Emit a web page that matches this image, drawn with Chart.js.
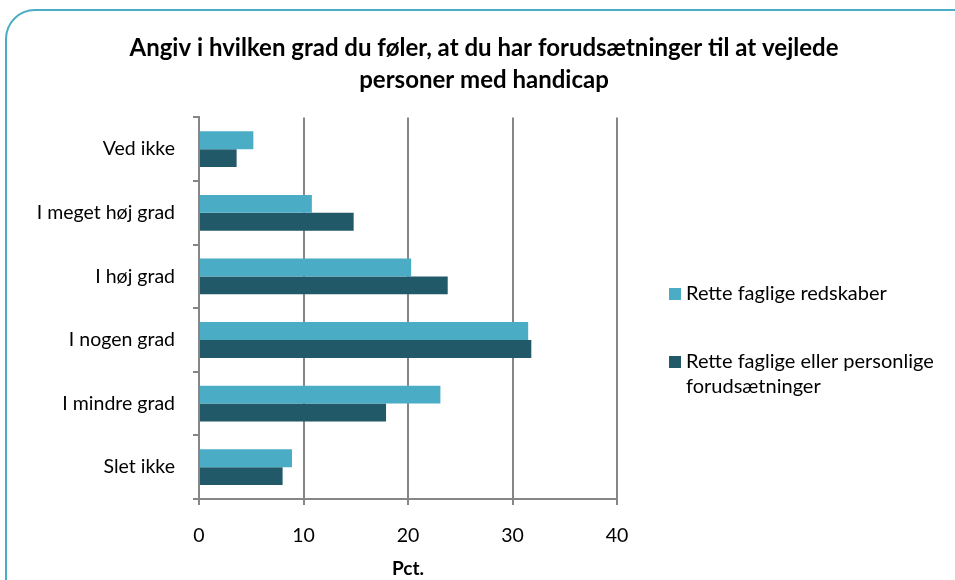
<!DOCTYPE html>
<html lang="da">
<head>
<meta charset="utf-8">
<title>Forudsætninger til at vejlede personer med handicap</title>
<script src="https://cdn.jsdelivr.net/npm/chart.js@4/dist/chart.umd.min.js"></script>
<style>
    html, body { margin: 0; padding: 0; background: #fff; overflow: hidden; }
    #wrap { position: relative; width: 955px; height: 580px; }
    #frame {
        position: absolute; left: 5px; top: 9px; width: 980px; height: 600px;
        border: 2px solid #4bacc6; border-radius: 30px; box-sizing: border-box;
    }
    canvas { position: absolute; left: 0; top: 0; }
</style>
</head>
<body>
<div id="wrap">
    <div id="frame"></div>
    <canvas id="chart" width="955" height="580"></canvas>
</div>
<script>
// data
const categories = ['Ved ikke', 'I meget høj grad', 'I høj grad', 'I nogen grad', 'I mindre grad', 'Slet ikke'];
const redskaber = [5.2, 10.8, 20.3, 31.5, 23.1, 8.9];
const forudsaetninger = [3.6, 14.8, 23.8, 31.8, 17.9, 8.0];
const seriesLabels = [
    ['Rette faglige redskaber'],
    ['Rette faglige eller personlige', 'forudsætninger']
];
const xTicks = [0, 10, 20, 30, 40];

const FONT = 'Lato, "Open Sans", sans-serif';
const GRID = '#868686';

// legend drawn to the right of the plot, lines kept as in the original
const sideLegend = {
    id: 'sideLegend',
    afterDraw(chart) {
        const ctx = chart.ctx;
        const rows = [294, 362];
        ctx.save();
        ctx.font = '20px ' + FONT;
        ctx.textBaseline = 'middle';
        chart.data.datasets.forEach((ds, i) => {
            ctx.fillStyle = ds.backgroundColor;
            ctx.fillRect(669, rows[i] - 6, 12, 12);
            ctx.fillStyle = '#000';
            seriesLabels[i].forEach((line, j) => {
                ctx.fillText(line, 686, rows[i] + j * 25);
            });
        });
        ctx.restore();
    }
};

const ctx = document.getElementById('chart').getContext('2d');
new Chart(ctx, {
    type: 'bar',
    data: {
        labels: categories,
        datasets: [
            {
                label: seriesLabels[0].join(' '),
                data: redskaber,
                backgroundColor: '#4bacc6'
            },
            {
                label: seriesLabels[1].join(' '),
                data: forudsaetninger,
                backgroundColor: '#215968'
            }
        ]
    },
    options: {
        indexAxis: 'y',
        responsive: false,
        animation: false,
        events: [],
        categoryPercentage: 0.5625,
        barPercentage: 1,
        layout: { padding: { left: 13, right: 0, top: 0, bottom: 0 } },
        plugins: {
            legend: { display: false },
            tooltip: { enabled: false },
            title: {
                display: true,
                text: ['Angiv i hvilken grad du føler, at du har forudsætninger til at vejlede',
                       'personer med handicap'],
                color: '#000',
                font: { family: FONT, size: 24, weight: 'bold', lineHeight: 1.3 },
                padding: { top: 33, bottom: 22 }
            }
        },
        scales: {
            x: {
                min: 0,
                max: 40,
                afterBuildTicks(scale) {
                    scale.ticks = xTicks.map(v => ({ value: v }));
                },
                afterFit(scale) { scale.height = 81; },
                grid: { color: GRID, lineWidth: 2, tickLength: 6 },
                border: { color: GRID, width: 2 },
                ticks: { color: '#000', font: { family: FONT, size: 19.5 }, padding: 19 },
                title: {
                    display: true,
                    text: 'Pct.',
                    color: '#000',
                    font: { family: FONT, size: 19, weight: 'bold' },
                    padding: { top: 0, bottom: 0 }
                }
            },
            y: {
                afterFit(scale) { scale.width = 186; },
                grid: { offset: true, drawOnChartArea: false, color: GRID, lineWidth: 2, tickLength: 6 },
                border: { color: GRID, width: 2 },
                ticks: { color: '#000', font: { family: FONT, size: 19.5 }, padding: 18 }
            },
            side: {
                type: 'linear',
                position: 'right',
                display: true,
                afterFit(scale) { scale.width = 338; },
                grid: { display: false },
                border: { display: false },
                ticks: { display: false }
            }
        }
    },
    plugins: [sideLegend]
});
</script>
</body>
</html>
